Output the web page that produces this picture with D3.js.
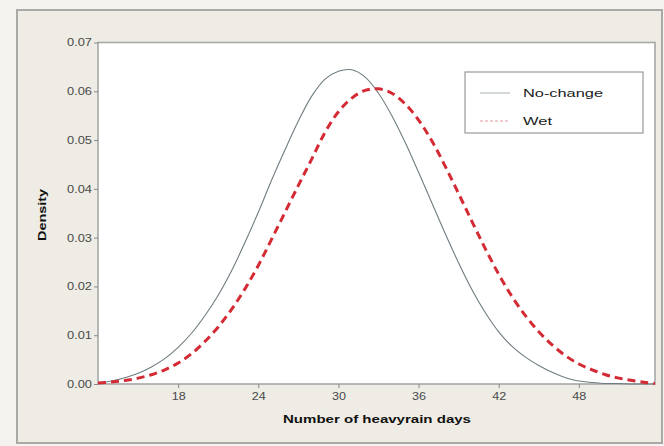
<!DOCTYPE html>
<html>
<head>
<meta charset="utf-8">
<script src="https://cdn.jsdelivr.net/npm/d3@7"></script>
<style>
  html, body { margin: 0; padding: 0; background: #f2f0ea; }
  svg { display: block; }
</style>
</head>
<body>
<svg id="chart" width="664" height="446"></svg>
<script>
// ---- data ----
const xValues = [12,13,14,15,16,17,18,19,20,21,22,23,24,25,26,27,28,29,30,31,32,33,34,35,36,37,38,39,40,41,42,43,44,45,46,47,48,49,50,51,52,53,53.7];
const noChange = [0.0002,0.0006,0.0013,0.0022,0.0035,0.0052,0.0075,0.0104,0.0140,0.0182,0.0232,0.0290,0.0352,0.0418,0.0480,0.0539,0.0590,0.0625,0.0641,0.0644,0.0629,0.0596,0.0550,0.0495,0.0434,0.0371,0.0308,0.0248,0.0193,0.0146,0.0107,0.0077,0.0055,0.0038,0.0024,0.0013,0.0006,0.0003,0.0001,0.0001,0.0000,0.0000,0.0000];
const wet = [0.0002,0.0004,0.0007,0.0012,0.0019,0.0029,0.0043,0.0062,0.0087,0.0117,0.0153,0.0195,0.0243,0.0297,0.0352,0.0407,0.0461,0.0516,0.0558,0.0586,0.0602,0.0605,0.0596,0.0574,0.0541,0.0498,0.0446,0.0390,0.0333,0.0277,0.0225,0.0179,0.0140,0.0107,0.0080,0.0058,0.0041,0.0029,0.0019,0.0012,0.0007,0.0003,0.0001];
const xTicks = [18,24,30,36,42,48];
const yTicks = [0.00,0.01,0.02,0.03,0.04,0.05,0.06,0.07];
const seriesNames = ["No-change","Wet"];
const xTitle = "Number of heavyrain days";
const yTitle = "Density";

const svg = d3.select("#chart");
const W = 664, H = 446;
const plot = {left: 98, right: 655, top: 42.5, bottom: 384};
const FONT = "Liberation Sans, Arial, sans-serif";

// background + outer frame
svg.append("rect").attr("x",0).attr("y",0).attr("width",W).attr("height",H).attr("fill","#f4f3ef");
svg.append("rect").attr("x",17).attr("y",10).attr("width",645).attr("height",433)
  .attr("fill","#eeece4").attr("stroke","#a9a9a6").attr("stroke-width",2);

const x = d3.scaleLinear().domain([12, 53.7]).range([plot.left, plot.right]);
const y = d3.scaleLinear().domain([0, 0.07]).range([plot.bottom, plot.top]);

// plot area
svg.append("rect").attr("x",plot.left).attr("y",plot.top)
  .attr("width",plot.right-plot.left).attr("height",plot.bottom-plot.top)
  .attr("fill","#ffffff").attr("stroke","#a6a8a8").attr("stroke-width",1.6);

// axes
const yAxis = d3.axisLeft(y).tickValues(yTicks).tickFormat(d3.format(".2f")).tickSize(4).tickPadding(2);
const xAxis = d3.axisBottom(x).tickValues(xTicks).tickFormat(d3.format("d")).tickSize(4).tickPadding(5);

const gy = svg.append("g").attr("transform",`translate(${plot.left},0)`).call(yAxis);
const gx = svg.append("g").attr("transform",`translate(0,${plot.bottom})`).call(xAxis);
[gy, gx].forEach(g => {
  g.select(".domain").remove();
  g.selectAll(".tick line").attr("stroke","#8a8a8a");
  g.selectAll(".tick text").attr("fill","#4a4a4a")
    .attr("font-family",FONT).attr("font-size",10.5)
    .attr("lengthAdjust","spacingAndGlyphs");
});
gy.selectAll(".tick text").attr("textLength",25);
gx.selectAll(".tick text").attr("textLength",14);

// axis titles
svg.append("text").attr("x",377).attr("y",423).attr("text-anchor","middle")
  .attr("font-family",FONT).attr("font-weight","bold")
  .attr("font-size",11.5).attr("fill","#111")
  .attr("textLength",188).attr("lengthAdjust","spacingAndGlyphs").text(xTitle);
svg.append("text").attr("transform","translate(46,215) rotate(-90)").attr("text-anchor","middle")
  .attr("font-family",FONT).attr("font-weight","bold")
  .attr("font-size",11.5).attr("fill","#111")
  .attr("textLength",52).attr("lengthAdjust","spacingAndGlyphs").text(yTitle);

// curves
const line = d3.line().x(d => x(d[0])).y(d => y(d[1])).curve(d3.curveCatmullRom.alpha(0.5));
svg.append("clipPath").attr("id","clip").append("rect")
  .attr("x",plot.left).attr("y",plot.top-5).attr("width",plot.right-plot.left).attr("height",plot.bottom-plot.top+6);

svg.append("path").datum(xValues.map((v,i)=>[v,noChange[i]]))
  .attr("d",line).attr("fill","none").attr("stroke","#6f7c80").attr("stroke-width",1.1)
  .attr("clip-path","url(#clip)");
svg.append("path").datum(xValues.map((v,i)=>[v,wet[i]]))
  .attr("d",line).attr("fill","none").attr("stroke","#d42a34").attr("stroke-width",3)
  .attr("stroke-dasharray","8,5").attr("clip-path","url(#clip)");

// legend
const lg = svg.append("g");
lg.append("rect").attr("x",465).attr("y",72).attr("width",178).attr("height",61)
  .attr("fill","#ffffff").attr("stroke","#9a9a9a").attr("stroke-width",1.2);
const legendStyles = [
  {stroke:"#a9b2b5", width:1, dash:null, len:80},
  {stroke:"#e79aa0", width:1.2, dash:"3,2", len:29}
];
seriesNames.forEach((name,i) => {
  const yy = 93 + i*28;
  lg.append("line").attr("x1",480).attr("x2",510).attr("y1",yy).attr("y2",yy)
    .attr("stroke",legendStyles[i].stroke).attr("stroke-width",legendStyles[i].width)
    .attr("stroke-dasharray",legendStyles[i].dash);
  lg.append("text").attr("x",523).attr("y",yy+4)
    .attr("font-family",FONT).attr("font-size",11.5)
    .attr("fill","#222").attr("textLength",legendStyles[i].len)
    .attr("lengthAdjust","spacingAndGlyphs").text(name);
});
</script>
</body>
</html>
